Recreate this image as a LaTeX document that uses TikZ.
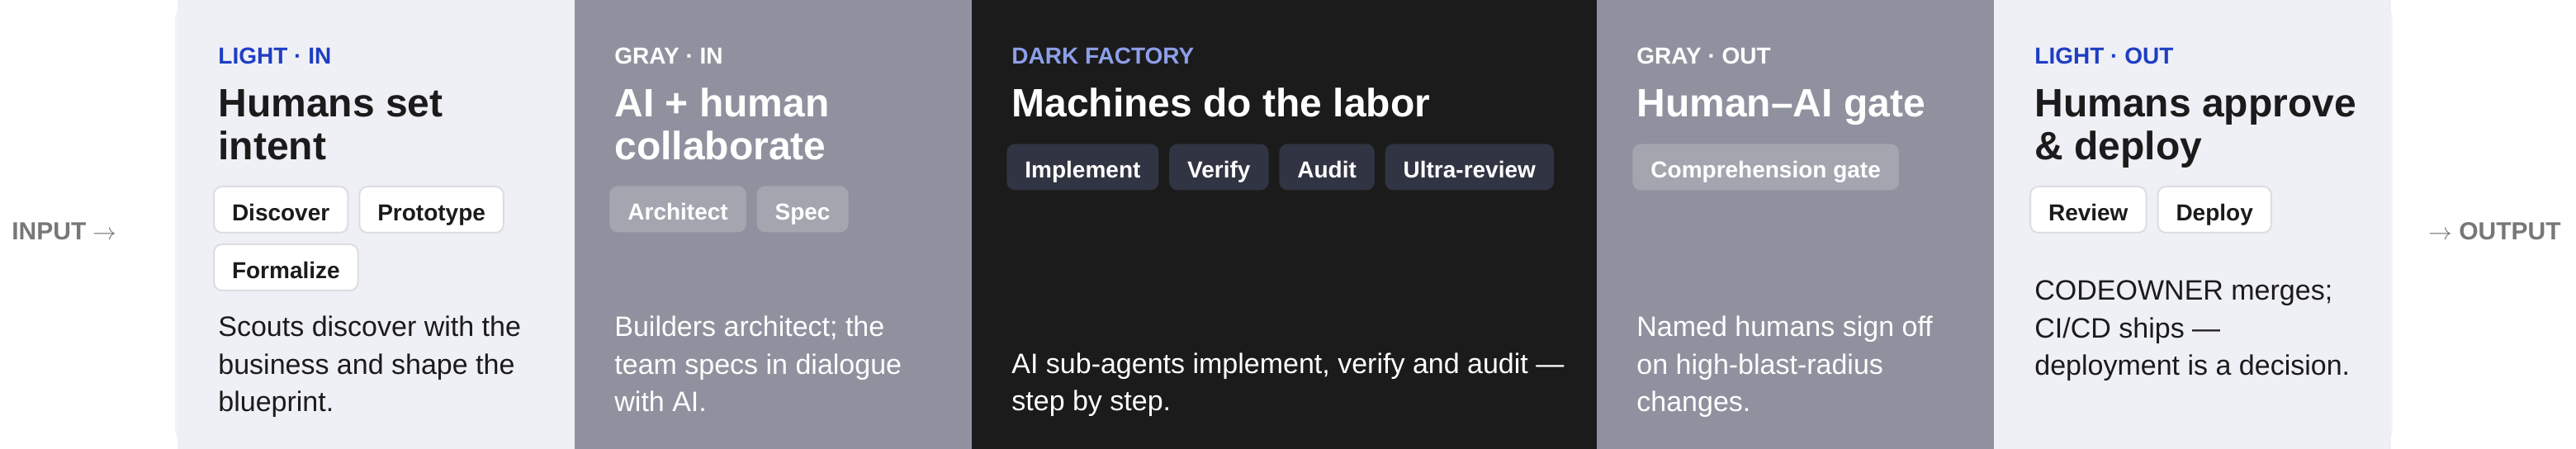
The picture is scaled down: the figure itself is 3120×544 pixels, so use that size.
\documentclass[tikz,border=0pt]{standalone}
\usepackage{fontspec}
\setmainfont{Liberation Sans}
\usepackage{xcolor}
\usetikzlibrary{positioning}

\definecolor{framegray}{HTML}{F3F4F7}
\definecolor{panellight}{HTML}{EFF0F5}
\definecolor{panelgray}{HTML}{8F929E}
\definecolor{paneldark}{HTML}{1B1B1B}
\definecolor{chipedge}{HTML}{DCDDE2}
\definecolor{chipgray}{HTML}{A3A6AF}
\definecolor{chipdark}{HTML}{313442}
\definecolor{inklight}{HTML}{1B1B1B}
\definecolor{tagblue}{HTML}{1E3EC2}
\definecolor{tagdark}{HTML}{8D9FE8}
\definecolor{flowgray}{HTML}{777777}

\begin{document}
\begin{tikzpicture}[x=0.5pt, y=-0.5pt,
    % multi-line nodes sit on the baseline of their last line
    tag/.style={anchor=base west, inner sep=0pt, font=\bfseries\fontsize{14}{16}\selectfont},
    headline/.style={anchor=base west, inner sep=0pt, align=left, font=\bfseries\fontsize{24}{26}\selectfont},
    blurb/.style={anchor=base west, inner sep=0pt, align=left, font=\fontsize{17}{22.75}\selectfont},
    chip/.style={rounded corners=5pt, inner xsep=11pt, inner ysep=0pt, text height=13.5pt, text depth=0pt, minimum height=28pt, font=\bfseries\fontsize{14}{16}\selectfont},
    chiplight/.style={chip, fill=white, draw=chipedge, line width=1pt, text=inklight},
    chipmid/.style={chip, fill=chipgray, text=white},
    chipdeep/.style={chip, fill=chipdark, text=white},
    flow/.style={inner sep=0pt, text=flowgray, font=\bfseries\fontsize{15}{18}\selectfont}
]
    \useasboundingbox (0,0) rectangle (3120,544);

    % faint frame behind the strip
    \fill[framegray, rounded corners=12pt] (212,0) rectangle (2898,544);

    % the five bands
    \fill[panellight] (215,0) rectangle (696,544);
    \fill[panelgray] (696,0) rectangle (1177,544);
    \fill[paneldark] (1177,0) rectangle (1934,544);
    \fill[panelgray] (1934,0) rectangle (2415,544);
    \fill[panellight] (2415,0) rectangle (2896,544);

    % input and output
    \node[flow, anchor=west] (input) at (14,280) {INPUT $\rightarrow$};
    \node[flow, anchor=east] (output) at (3102,280) {$\rightarrow$ OUTPUT};

    % light in
    \node[tag, text=tagblue] (tagLightIn) at (264,78) {LIGHT · IN};
    \node[headline, text=inklight] (headLightIn) at (264,194) {Humans set\\intent};
    \node[chiplight, anchor=north west] (chDiscover) at (258,225) {Discover};
    \node[chiplight, right=6pt of chDiscover] (chPrototype) {Prototype};
    \node[chiplight, below right=6pt and 0pt of chDiscover.south west] (chFormalize) {Formalize};
    \node[blurb, text=inklight] (txtLightIn) at (264,499) {Scouts discover with the\\business and shape the\\blueprint.};

    % gray in
    \node[tag, text=white] (tagGrayIn) at (744,78) {GRAY · IN};
    \node[headline, text=white] (headGrayIn) at (744,194) {AI + human\\collaborate};
    \node[chipmid, anchor=north west] (chArchitect) at (738,225) {Architect};
    \node[chipmid, right=6pt of chArchitect] (chSpec) {Spec};
    \node[blurb, text=white] (txtGrayIn) at (744,499) {Builders architect; the\\team specs in dialogue\\with AI.};

    % dark factory
    \node[tag, text=tagdark] (tagDark) at (1225,78) {DARK FACTORY};
    \node[headline, text=white] (headDark) at (1225,142) {Machines do the labor};
    \node[chipdeep, anchor=north west] (chImplement) at (1219,174) {Implement};
    \node[chipdeep, right=6pt of chImplement] (chVerify) {Verify};
    \node[chipdeep, right=6pt of chVerify] (chAudit) {Audit};
    \node[chipdeep, right=6pt of chAudit] (chUltra) {Ultra-review};
    \node[blurb, text=white] (txtDark) at (1225,498) {AI sub-agents implement, verify and audit —\\step by step.};

    % gray out
    \node[tag, text=white] (tagGrayOut) at (1982,78) {GRAY · OUT};
    \node[headline, text=white] (headGrayOut) at (1982,142) {Human–AI gate};
    \node[chipmid, anchor=north west] (chGate) at (1977,174) {Comprehension gate};
    \node[blurb, text=white] (txtGrayOut) at (1982,499) {Named humans sign off\\on high-blast-radius\\changes.};

    % light out
    \node[tag, text=tagblue] (tagLightOut) at (2464,78) {LIGHT · OUT};
    \node[headline, text=inklight] (headLightOut) at (2464,194) {Humans approve\\\& deploy};
    \node[chiplight, anchor=north west] (chReview) at (2458,225) {Review};
    \node[chiplight, right=6pt of chReview] (chDeploy) {Deploy};
    \node[blurb, text=inklight] (txtLightOut) at (2464,455) {CODEOWNER merges;\\CI/CD ships —\\deployment is a decision.};
\end{tikzpicture}
\end{document}
